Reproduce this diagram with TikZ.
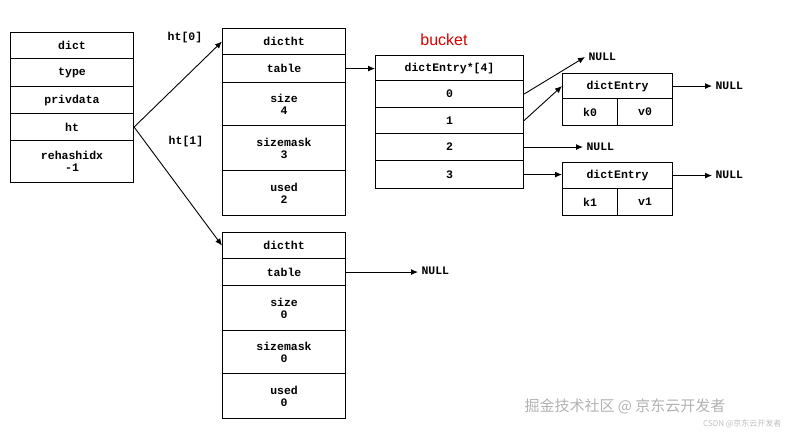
\documentclass[tikz,border=0pt]{standalone}
\usepackage{fontspec}
\setmonofont{Liberation Mono}
\newfontfamily\cjk{Noto Sans CJK SC}
\newfontfamily\sans{Liberation Sans}
\usetikzlibrary{arrows.meta}
\begin{document}
\begin{tikzpicture}[x=1pt,y=-1pt,
  cell/.style={draw,line width=1.1pt,inner sep=0pt},
  lbl/.style={font=\ttfamily\bfseries\fontsize{11.5}{12}\selectfont,align=center},
  arr/.style={-{Latex[length=7pt,width=6pt]},line width=0.9pt}]
\useasboundingbox (0,0) rectangle (792,434);
\newcommand\cellbox[6]{\node[cell,lbl,minimum width=#3-#2,minimum height=#5-#4,anchor=north west] (#1) at (#2,#4) {#6};}
% dict
\cellbox{d0}{10}{133}{32}{58}{dict}
\cellbox{d1}{10}{133}{58}{86}{type}
\cellbox{d2}{10}{133}{86}{113}{privdata}
\cellbox{d3}{10}{133}{113}{140}{ht}
\cellbox{d4}{10}{133}{140}{182}{rehashidx\\-1}
% dictht 0
\cellbox{a0}{222}{345}{28}{54}{dictht}
\cellbox{a1}{222}{345}{54}{82}{table}
\cellbox{a2}{222}{345}{82}{125}{size\\4}
\cellbox{a3}{222}{345}{125}{170}{sizemask\\3}
\cellbox{a4}{222}{345}{170}{215}{used\\2}
% dictht 1
\cellbox{b0}{222}{345}{232}{258}{dictht}
\cellbox{b1}{222}{345}{258}{285}{table}
\cellbox{b2}{222}{345}{285}{330}{size\\0}
\cellbox{b3}{222}{345}{330}{373}{sizemask\\0}
\cellbox{b4}{222}{345}{373}{418}{used\\0}
% bucket
\node[text=red!85!black,font=\sans\fontsize{16}{17}\selectfont] (bk) at (444,40) {bucket};
\cellbox{c0}{375}{523}{55}{80}{dictEntry*[4]}
\cellbox{c1}{375}{523}{80}{107}{0}
\cellbox{c2}{375}{523}{107}{133}{1}
\cellbox{c3}{375}{523}{133}{160}{2}
\cellbox{c4}{375}{523}{160}{188}{3}
% entries
\cellbox{e0}{562}{672}{73}{98}{dictEntry}
\cellbox{e0k}{562}{617}{98}{125}{k0}
\cellbox{e0v}{617}{672}{98}{125}{v0}
\cellbox{e1}{562}{672}{162}{188}{dictEntry}
\cellbox{e1k}{562}{617}{188}{215}{k1}
\cellbox{e1v}{617}{672}{188}{215}{v1}
% NULLs
\node[lbl,anchor=west] (n0) at (585,57) {NULL};
\node[lbl,anchor=west] (n1) at (712,86) {NULL};
\node[lbl,anchor=west] (n2) at (583,147) {NULL};
\node[lbl,anchor=west] (n3) at (712,175) {NULL};
\node[lbl,anchor=west] (n4) at (418,271) {NULL};
\node[lbl] (h0) at (185,38) {ht[0]};
\node[lbl] (h1) at (186,142) {ht[1]};
% arrows
\draw[arr] (d3.east) -- (a0.west);
\draw[arr] (d3.east) -- (b0.west);
\draw[arr] (a1.east) -- (a1.east -| c0.west);
\draw[arr] (c1.east) -- (n0.west);
\draw[arr] (c2.east) -- (e0.west);
\draw[arr] (c3.east) -- (c3.east -| n2.west);
\draw[arr] (c4.east) -- (c4.east -| e1.west);
\draw[arr] (e0.east) -- (e0.east -| n1.west);
\draw[arr] (e1.east) -- (e1.east -| n3.west);
\draw[arr] (b1.east) -- (b1.east -| n4.west);
% watermark
\node[text=gray!60,font=\cjk\fontsize{15}{16}\selectfont] (wm) at (625,406) {掘金技术社区 @ 京东云开发者};
\node[text=gray!50,font=\cjk\fontsize{8}{9}\selectfont,anchor=east] (wm2) at (785,424) {CSDN @京东云开发者};
\end{tikzpicture}
\end{document}
